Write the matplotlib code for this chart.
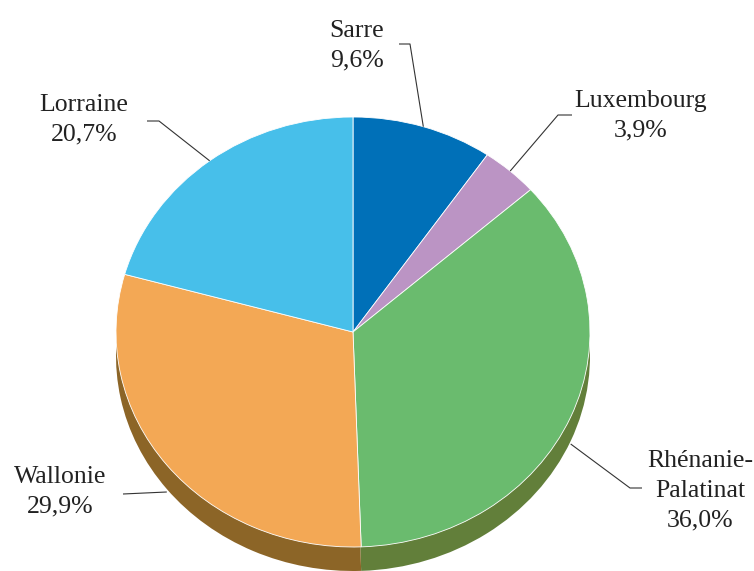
import numpy as np
import matplotlib
matplotlib.use("Agg")
import matplotlib.pyplot as plt
from matplotlib import font_manager

regions = ["Sarre", "Luxembourg", "Rhénanie-\nPalatinat", "Wallonie", "Lorraine"]
shares = [9.6, 3.9, 36.0, 29.9, 20.7]
pct_labels = ["9,6%", "3,9%", "36,0%", "29,9%", "20,7%"]
top_colors = ["#0070B8", "#BB94C4", "#6ABB6E", "#F3A855", "#47BFEA"]
side_colors = ["#004F82", "#846A8A", "#627F3A", "#8C6527", "#2F88A8"]

plt.rcParams["font.family"] = ["serif"]
plt.rcParams["font.serif"] = ["Liberation Serif", "DejaVu Serif"]

W, H = 754, 571
cx, cy = 353, 332        # pie centre (pixels from top-left)
rx, ry = 237, 215        # ellipse radii in pixels
depth = 24               # 3D thickness in pixels

fig = plt.figure(figsize=(W / 100, H / 100), dpi=100)
ax = fig.add_axes([0, 0, 1, 1])

def P(px, py):
    """pixel -> data coordinates"""
    return (px - cx) / rx, (cy - py) / ry

# side (depth) of the pie
ax.pie(shares, colors=side_colors, startangle=90, counterclock=False,
       radius=1, center=(0, -depth / ry),
       wedgeprops=dict(linewidth=0, edgecolor="none"))
# top surface
ax.pie(shares, colors=top_colors, startangle=90, counterclock=False,
       radius=1, center=(0, 0),
       wedgeprops=dict(linewidth=0.6, edgecolor="white"))

ax.set_aspect("auto")
ax.set_xlim((0 - cx) / rx, (W - cx) / rx)
ax.set_ylim((cy - H) / ry, (cy - 0) / ry)
ax.axis("off")

# label placement (pixel centres) and leader elbows
label_pos = [(357, 46), (641, 116), (700, 491), (60, 492), (84, 120)]
elbows = [[(399, 44), (410, 44)],
          [(572, 115), (558, 115)],
          [(642, 488), (630, 488)],
          [(123, 494), (123, 494)],
          [(147, 121), (159, 121)]]

total = sum(shares)
cum = 0
for i, (name, v) in enumerate(zip(regions, shares)):
    mid = np.deg2rad((cum + v / 2) / total * 360)
    cum += v
    ax_px = cx + rx * np.sin(mid)
    ay_px = cy - ry * np.cos(mid)
    if np.cos(mid) < 0:
        ay_px += depth + 3
    pts = [P(*e) for e in elbows[i]] + [P(ax_px, ay_px)]
    xs, ys = zip(*pts)
    ax.plot(xs, ys, color="#333333", lw=0.8, solid_capstyle="butt")
    tx, ty = P(*label_pos[i])
    ax.text(tx, ty, name + "\n" + pct_labels[i], ha="center", va="center",
            fontsize=18.5, color="#222222", linespacing=1.45)

fig.savefig("out.png", dpi=100)
